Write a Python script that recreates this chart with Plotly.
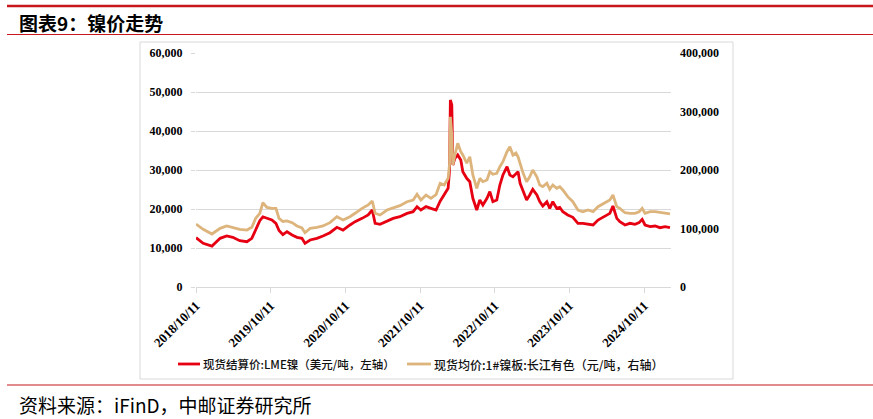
import plotly.graph_objects as go

dates = [
    "2018-10-11", "2018-11-15", "2018-12-28", "2019-02-06", "2019-03-10", "2019-04-09",
    "2019-05-13", "2019-06-17", "2019-07-11", "2019-07-30", "2019-08-19", "2019-09-03",
    "2019-09-23", "2019-10-17", "2019-11-06", "2019-11-21", "2019-12-10", "2019-12-30",
    "2020-01-24", "2020-02-17", "2020-03-12", "2020-03-27", "2020-04-21", "2020-05-24",
    "2020-06-23", "2020-07-27", "2020-08-30", "2020-09-29", "2020-11-02", "2020-11-27",
    "2020-12-31", "2021-01-30", "2021-02-19", "2021-03-05", "2021-03-29", "2021-05-02",
    "2021-06-01", "2021-07-04", "2021-08-08", "2021-09-07", "2021-09-26", "2021-10-15",
    "2021-11-09", "2021-12-03", "2021-12-28", "2022-01-17", "2022-02-06", "2022-02-25",
    "2022-03-04", "2022-03-08", "2022-03-15", "2022-03-20", "2022-03-30", "2022-04-13",
    "2022-04-28", "2022-05-08", "2022-05-27", "2022-06-11", "2022-06-26", "2022-07-15",
    "2022-07-30", "2022-08-14", "2022-09-03", "2022-09-17", "2022-10-02", "2022-10-21",
    "2022-11-05", "2022-11-20", "2022-12-10", "2022-12-24", "2023-01-08", "2023-01-23",
    "2023-02-02", "2023-02-12", "2023-02-27", "2023-03-16", "2023-03-31", "2023-04-15",
    "2023-05-05", "2023-05-19", "2023-06-03", "2023-06-23", "2023-07-07", "2023-07-22",
    "2023-08-10", "2023-08-25", "2023-09-09", "2023-10-03", "2023-10-28", "2023-11-22",
    "2023-12-16", "2024-01-10", "2024-02-04", "2024-02-28", "2024-03-23", "2024-04-11",
    "2024-04-26", "2024-05-11", "2024-05-30", "2024-06-14", "2024-07-09", "2024-08-02",
    "2024-08-27", "2024-09-16", "2024-10-01", "2024-10-15", "2024-11-09", "2024-12-03",
    "2024-12-27", "2025-01-21", "2025-02-14",
]

lme_nickel = [
    12640, 11200, 10500, 12480, 13080, 12740,
    11870, 11620, 12480, 14800, 17000, 18000,
    17600, 17180, 16300, 14500, 13400, 14180,
    13330, 12740, 12480, 11200, 12050, 12480,
    13080, 13920, 15300, 14600, 15900, 16750,
    17600, 18460, 19740, 16330, 16070, 16920,
    17600, 18030, 18880, 19310, 20600, 19740,
    20600, 20170, 19740, 22000, 23590, 25300,
    30000, 47950, 46670, 31280, 33000, 33850,
    32560, 29560, 27870, 27000, 22740, 19740,
    22300, 21030, 22740, 24450, 21880, 22300,
    26150, 28720, 30850, 28720, 28290, 29000,
    29560, 26580, 24450, 22300, 23590, 25050,
    23590, 21880, 20770, 21880, 20170, 21880,
    20170, 20430, 19310, 18460, 17870, 16330,
    16330, 16150, 15900, 17180, 17870, 18460,
    18880, 20770, 17600, 16750, 15900, 16330,
    16070, 16500, 17350, 15900, 15470, 15640,
    15210, 15470, 15210,
]

cj_nickel = [
    107700, 98600, 90600, 100300, 104300, 102000,
    98600, 97400, 102000, 117400, 126000, 144000,
    136000, 134500, 134500, 117400, 112000, 113000,
    110000, 104300, 101000, 92800, 100300, 102000,
    104300, 110000, 120200, 114500, 120200, 126000,
    134500, 140200, 147000, 126000, 123000, 131600,
    135600, 139000, 145800, 148700, 158500, 148700,
    157300, 151600, 158000, 177300, 174400, 185800,
    210000, 291000, 259800, 208500, 225600, 245600,
    231300, 225600, 211500, 222700, 191500, 168700,
    185800, 180000, 182900, 197100, 192600, 194300,
    205600, 214200, 231300, 239800, 225600, 229000,
    222700, 211500, 194300, 180000, 188500, 200000,
    188500, 174400, 171500, 177300, 167000, 174400,
    168700, 171500, 165800, 154400, 145800, 131600,
    128700, 131600, 128700, 137300, 141900, 145800,
    148700, 157300, 137300, 134500, 127000, 126000,
    126000, 128700, 134500, 126000, 128700, 128700,
    127000, 126000, 124800,
]

tick_dates = ["2018-10-11", "2019-10-11", "2020-10-11", "2021-10-11",
              "2022-10-11", "2023-10-11", "2024-10-11"]
tick_labels = ["2018/10/11", "2019/10/11", "2020/10/11", "2021/10/11",
               "2022/10/11", "2023/10/11", "2024/10/11"]
left_ticks = [0, 10000, 20000, 30000, 40000, 50000, 60000]
right_ticks = [0, 100000, 200000, 300000, 400000]

name_red = "现货结算价:LME镍（美元/吨，左轴）"
name_tan = "现货均价:1#镍板:长江有色（元/吨，右轴）"
title = "图表9：镍价走势"
source = "资料来源：iFinD，中邮证券研究所"

RED = "#E60012"
TAN = "#DDB47C"
DARK_RED = "#C8161D"
GRID = "#D9D9D9"

W, H = 873, 419
L, R, T, B = 196, 671, 53, 287


def px(x):
    return (x - L) / (R - L)


def py(y):
    return (B - y) / (B - T)


fig = go.Figure()
fig.add_trace(go.Scatter(x=dates, y=lme_nickel, name=name_red, mode="lines",
                         line=dict(color=RED, width=2.8), yaxis="y"))
fig.add_trace(go.Scatter(x=dates, y=cj_nickel, name=name_tan, mode="lines",
                         line=dict(color=TAN, width=2.8), yaxis="y2"))

tickfont = dict(family="Liberation Serif", size=12, color="#000000", weight="bold")
xtickfont = dict(family="Liberation Serif", size=13, color="#000000", weight="bold")

fig.update_layout(
    width=W, height=H, autosize=False,
    margin=dict(l=L, r=W - R, t=T, b=H - B, pad=0),
    paper_bgcolor="white", plot_bgcolor="white",
    showlegend=False,
    xaxis=dict(type="date", range=["2018-10-11", "2025-02-19"],
               tickmode="array", tickvals=tick_dates, ticktext=tick_labels,
               tickangle=-45, tickfont=xtickfont, showgrid=False,
               showline=True, linecolor=GRID, linewidth=1,
               ticks="outside", ticklen=5, tickcolor=GRID, zeroline=False),
    yaxis=dict(range=[0, 60000], tickmode="array", tickvals=left_ticks,
               tickformat=",", tickfont=tickfont, showgrid=True, gridcolor=GRID,
               gridwidth=1, zeroline=False, showline=False,
               ticks="outside", ticklen=4, tickcolor=GRID, ticklabelstandoff=6),
    yaxis2=dict(range=[0, 400000], tickmode="array", tickvals=right_ticks,
                tickformat=",", tickfont=tickfont, overlaying="y", side="right",
                showgrid=False, zeroline=False, showline=False,
                ticks="", ticklabelstandoff=8),
)

shapes = [
    dict(type="rect", xref="paper", yref="paper", x0=px(140), x1=px(733),
         y0=py(379), y1=py(42), line=dict(color=GRID, width=1), layer="below"),
    dict(type="line", xref="paper", yref="paper", x0=px(7), x1=px(873),
         y0=py(6), y1=py(6), line=dict(color=DARK_RED, width=2.5)),
    dict(type="line", xref="paper", yref="paper", x0=px(7), x1=px(873),
         y0=py(34.5), y1=py(34.5), line=dict(color=DARK_RED, width=1.2)),
    dict(type="line", xref="paper", yref="paper", x0=px(7), x1=px(873),
         y0=py(385), y1=py(385), line=dict(color=DARK_RED, width=1.2)),
    dict(type="line", xref="paper", yref="paper", x0=px(178), x1=px(200),
         y0=py(364), y1=py(364), line=dict(color=RED, width=2.8)),
    dict(type="line", xref="paper", yref="paper", x0=px(407), x1=px(431),
         y0=py(364), y1=py(364), line=dict(color=TAN, width=2.8)),
]

annotations = [
    dict(text="<b>" + title + "</b>", xref="paper", yref="paper", x=px(17), y=py(22),
         xanchor="left", yanchor="middle", showarrow=False,
         font=dict(family="Noto Sans CJK SC", size=19, color="#000000")),
    dict(text=source, xref="paper", yref="paper", x=px(17), y=py(404),
         xanchor="left", yanchor="middle", showarrow=False,
         font=dict(family="Noto Sans CJK SC", size=19, color="#000000")),
    dict(text=name_red, xref="paper", yref="paper", x=px(201), y=py(364),
         xanchor="left", yanchor="middle", showarrow=False,
         font=dict(family="Noto Sans CJK SC", size=11.5, color="#111111", weight=500)),
    dict(text=name_tan, xref="paper", yref="paper", x=px(432), y=py(364),
         xanchor="left", yanchor="middle", showarrow=False,
         font=dict(family="Noto Sans CJK SC", size=12, color="#111111", weight=500)),
]

fig.update_layout(shapes=shapes, annotations=annotations)
fig.write_html("out.html")
